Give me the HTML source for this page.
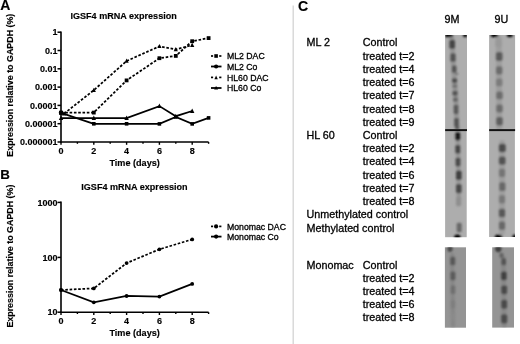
<!DOCTYPE html><html><head><meta charset="utf-8"><style>
*{margin:0;padding:0}
html,body{width:520px;height:344px;background:#fff;overflow:hidden}
svg{display:block;filter:grayscale(1);font-family:"Liberation Sans",sans-serif}
.b{font-weight:bold;stroke:#000;stroke-width:0.15px}
.r{stroke:#000;stroke-width:0.3px}
</style></head><body><svg width="520" height="344" viewBox="0 0 520 344">
<defs><filter id="bl" x="-50%" y="-50%" width="200%" height="200%"><feGaussianBlur stdDeviation="0.8"/></filter></defs>
<text x="0.2" y="9.9" class="b" font-size="14">A</text>
<text x="70.5" y="19.3" class="b" font-size="9.05">IGSF4 mRNA expression</text>
<text transform="translate(13.3,85.2) rotate(-90)" text-anchor="middle" class="b" font-size="8.9">Expression relative to GAPDH (%)</text>
<line x1="61" y1="31.4" x2="61" y2="142.8" stroke="#000" stroke-width="1.6"/>
<line x1="60.2" y1="142" x2="208.6" y2="142" stroke="#000" stroke-width="1.6"/>
<line x1="57.5" y1="32.2" x2="61" y2="32.2" stroke="#000" stroke-width="1.5"/>
<text x="57.5" y="35.400000000000006" text-anchor="end" class="b" font-size="9">1</text>
<line x1="57.5" y1="50.5" x2="61" y2="50.5" stroke="#000" stroke-width="1.5"/>
<text x="57.5" y="53.7" text-anchor="end" class="b" font-size="9">0.1</text>
<line x1="57.5" y1="68.80000000000001" x2="61" y2="68.80000000000001" stroke="#000" stroke-width="1.5"/>
<text x="57.5" y="72.00000000000001" text-anchor="end" class="b" font-size="9">0.01</text>
<line x1="57.5" y1="87.10000000000001" x2="61" y2="87.10000000000001" stroke="#000" stroke-width="1.5"/>
<text x="57.5" y="90.30000000000001" text-anchor="end" class="b" font-size="9">0.001</text>
<line x1="57.5" y1="105.4" x2="61" y2="105.4" stroke="#000" stroke-width="1.5"/>
<text x="57.5" y="108.60000000000001" text-anchor="end" class="b" font-size="9">0.0001</text>
<line x1="57.5" y1="123.7" x2="61" y2="123.7" stroke="#000" stroke-width="1.5"/>
<text x="57.5" y="126.9" text-anchor="end" class="b" font-size="9">0.00001</text>
<line x1="57.5" y1="142.0" x2="61" y2="142.0" stroke="#000" stroke-width="1.5"/>
<text x="57.5" y="145.2" text-anchor="end" class="b" font-size="9">0.000001</text>
<line x1="61.0" y1="142" x2="61.0" y2="144.8" stroke="#000" stroke-width="1.4"/>
<text x="61.0" y="153.7" text-anchor="middle" class="b" font-size="9">0</text>
<line x1="77.4" y1="142" x2="77.4" y2="143.8" stroke="#000" stroke-width="1.4"/>
<line x1="93.8" y1="142" x2="93.8" y2="144.8" stroke="#000" stroke-width="1.4"/>
<text x="93.8" y="153.7" text-anchor="middle" class="b" font-size="9">2</text>
<line x1="110.19999999999999" y1="142" x2="110.19999999999999" y2="143.8" stroke="#000" stroke-width="1.4"/>
<line x1="126.6" y1="142" x2="126.6" y2="144.8" stroke="#000" stroke-width="1.4"/>
<text x="126.6" y="153.7" text-anchor="middle" class="b" font-size="9">4</text>
<line x1="143.0" y1="142" x2="143.0" y2="143.8" stroke="#000" stroke-width="1.4"/>
<line x1="159.39999999999998" y1="142" x2="159.39999999999998" y2="144.8" stroke="#000" stroke-width="1.4"/>
<text x="159.39999999999998" y="153.7" text-anchor="middle" class="b" font-size="9">6</text>
<line x1="175.79999999999998" y1="142" x2="175.79999999999998" y2="143.8" stroke="#000" stroke-width="1.4"/>
<line x1="192.2" y1="142" x2="192.2" y2="144.8" stroke="#000" stroke-width="1.4"/>
<text x="192.2" y="153.7" text-anchor="middle" class="b" font-size="9">8</text>
<line x1="208.6" y1="142" x2="208.6" y2="143.8" stroke="#000" stroke-width="1.4"/>
<text x="134.6" y="165.9" text-anchor="middle" class="b" font-size="9.1">Time (days)</text>
<polyline points="61.00,112.60 93.80,112.60 126.60,80.40 159.40,58.20 175.80,55.90 192.20,41.20 208.60,38.10" fill="none" stroke="#000" stroke-width="1.75" stroke-dasharray="2.6 1.7"/>
<polyline points="64.12,113.60 93.80,90.20 126.60,61.00 159.40,46.30 175.80,49.40 192.20,45.10" fill="none" stroke="#000" stroke-width="1.75" stroke-dasharray="2.6 1.7"/>
<polyline points="61.00,112.80 93.80,123.80 126.60,123.80 159.40,123.90 175.80,117.00 192.20,123.90 208.60,117.90" fill="none" stroke="#000" stroke-width="1.75"/>
<polyline points="61.00,118.20 93.80,118.10 126.60,118.10 159.40,106.10 175.80,116.20 192.20,111.00" fill="none" stroke="#000" stroke-width="1.75"/>
<rect x="59.10" y="110.70" width="3.8" height="3.8" fill="#000"/>
<rect x="91.90" y="110.70" width="3.8" height="3.8" fill="#000"/>
<rect x="124.70" y="78.50" width="3.8" height="3.8" fill="#000"/>
<rect x="157.50" y="56.30" width="3.8" height="3.8" fill="#000"/>
<rect x="173.90" y="54.00" width="3.8" height="3.8" fill="#000"/>
<rect x="190.30" y="39.30" width="3.8" height="3.8" fill="#000"/>
<rect x="206.70" y="36.20" width="3.8" height="3.8" fill="#000"/>
<circle cx="61.00" cy="112.80" r="2.2" fill="#000"/>
<polygon points="62.02,115.40 66.22,115.40 64.12,111.20" fill="#000"/>
<polygon points="91.70,92.00 95.90,92.00 93.80,87.80" fill="#000"/>
<polygon points="124.50,62.80 128.70,62.80 126.60,58.60" fill="#000"/>
<polygon points="157.30,48.10 161.50,48.10 159.40,43.90" fill="#000"/>
<polygon points="173.70,51.20 177.90,51.20 175.80,47.00" fill="#000"/>
<polygon points="190.10,46.90 194.30,46.90 192.20,42.70" fill="#000"/>
<rect x="59.20" y="111.00" width="3.6" height="3.6" fill="#000"/>
<rect x="92.00" y="122.00" width="3.6" height="3.6" fill="#000"/>
<rect x="124.80" y="122.00" width="3.6" height="3.6" fill="#000"/>
<rect x="157.60" y="122.10" width="3.6" height="3.6" fill="#000"/>
<rect x="174.00" y="115.20" width="3.6" height="3.6" fill="#000"/>
<rect x="190.40" y="122.10" width="3.6" height="3.6" fill="#000"/>
<rect x="206.80" y="116.10" width="3.6" height="3.6" fill="#000"/>
<polygon points="58.80,120.10 63.20,120.10 61.00,115.70" fill="#000"/>
<polygon points="91.60,120.00 96.00,120.00 93.80,115.60" fill="#000"/>
<polygon points="124.40,120.00 128.80,120.00 126.60,115.60" fill="#000"/>
<polygon points="157.20,108.00 161.60,108.00 159.40,103.60" fill="#000"/>
<polygon points="173.60,118.10 178.00,118.10 175.80,113.70" fill="#000"/>
<polygon points="190.00,112.90 194.40,112.90 192.20,108.50" fill="#000"/>
<line x1="211" y1="56.0" x2="213.1" y2="56.0" stroke="#000" stroke-width="1.7"/>
<line x1="219.2" y1="56.0" x2="221.4" y2="56.0" stroke="#000" stroke-width="1.7"/>
<rect x="214.29999999999998" y="54.2" width="3.6" height="3.6" fill="#000"/>
<text x="227" y="59.1" font-size="8.7" class="r">ML2 DAC</text>
<line x1="211" y1="66.5" x2="221.5" y2="66.5" stroke="#000" stroke-width="1.8"/>
<circle cx="216.1" cy="66.5" r="2.1" fill="#000"/>
<text x="227" y="69.6" font-size="8.7" class="r">ML2 Co</text>
<line x1="211" y1="77.4" x2="213.1" y2="77.4" stroke="#000" stroke-width="1.7"/>
<line x1="219.2" y1="77.4" x2="221.4" y2="77.4" stroke="#000" stroke-width="1.7"/>
<polygon points="214.4,79.2 217.79999999999998,79.2 216.1,75.5" fill="#000"/>
<text x="227" y="80.5" font-size="8.7" class="r">HL60 DAC</text>
<line x1="211" y1="88.0" x2="221.5" y2="88.0" stroke="#000" stroke-width="1.8"/>
<polygon points="214.1,89.4 218.1,89.4 216.1,85.9" fill="#000"/>
<text x="227" y="91.1" font-size="8.7" class="r">HL60 Co</text>
<text x="0.2" y="179.3" class="b" font-size="13.4">B</text>
<text x="81.3" y="190" class="b" font-size="9.05">IGSF4 mRNA expression</text>
<text transform="translate(13.3,256.1) rotate(-90)" text-anchor="middle" class="b" font-size="8.9">Expression relative to GAPDH (%)</text>
<line x1="61" y1="201.6" x2="61" y2="313.0" stroke="#000" stroke-width="1.6"/>
<line x1="60.2" y1="312.2" x2="208.6" y2="312.2" stroke="#000" stroke-width="1.6"/>
<line x1="57.5" y1="202.4" x2="61" y2="202.4" stroke="#000" stroke-width="1.5"/>
<text x="57.5" y="205.6" text-anchor="end" class="b" font-size="9">1000</text>
<line x1="57.5" y1="257.4" x2="61" y2="257.4" stroke="#000" stroke-width="1.5"/>
<text x="57.5" y="260.59999999999997" text-anchor="end" class="b" font-size="9">100</text>
<line x1="57.5" y1="312.2" x2="61" y2="312.2" stroke="#000" stroke-width="1.5"/>
<text x="57.5" y="315.4" text-anchor="end" class="b" font-size="9">10</text>
<line x1="61.0" y1="312.2" x2="61.0" y2="315.0" stroke="#000" stroke-width="1.4"/>
<text x="61.0" y="323.9" text-anchor="middle" class="b" font-size="9">0</text>
<line x1="77.4" y1="312.2" x2="77.4" y2="314.0" stroke="#000" stroke-width="1.4"/>
<line x1="93.8" y1="312.2" x2="93.8" y2="315.0" stroke="#000" stroke-width="1.4"/>
<text x="93.8" y="323.9" text-anchor="middle" class="b" font-size="9">2</text>
<line x1="110.19999999999999" y1="312.2" x2="110.19999999999999" y2="314.0" stroke="#000" stroke-width="1.4"/>
<line x1="126.6" y1="312.2" x2="126.6" y2="315.0" stroke="#000" stroke-width="1.4"/>
<text x="126.6" y="323.9" text-anchor="middle" class="b" font-size="9">4</text>
<line x1="143.0" y1="312.2" x2="143.0" y2="314.0" stroke="#000" stroke-width="1.4"/>
<line x1="159.39999999999998" y1="312.2" x2="159.39999999999998" y2="315.0" stroke="#000" stroke-width="1.4"/>
<text x="159.39999999999998" y="323.9" text-anchor="middle" class="b" font-size="9">6</text>
<line x1="175.79999999999998" y1="312.2" x2="175.79999999999998" y2="314.0" stroke="#000" stroke-width="1.4"/>
<line x1="192.2" y1="312.2" x2="192.2" y2="315.0" stroke="#000" stroke-width="1.4"/>
<text x="192.2" y="323.9" text-anchor="middle" class="b" font-size="9">8</text>
<line x1="208.6" y1="312.2" x2="208.6" y2="314.0" stroke="#000" stroke-width="1.4"/>
<text x="134.6" y="336.09999999999997" text-anchor="middle" class="b" font-size="9.1">Time (days)</text>
<polyline points="61.00,290.00 93.80,288.40 126.60,263.10 159.40,249.30 192.20,239.40" fill="none" stroke="#000" stroke-width="1.75" stroke-dasharray="2.6 1.7"/>
<polyline points="61.00,290.00 93.80,302.30 126.60,296.00 159.40,296.60 192.20,283.90" fill="none" stroke="#000" stroke-width="1.75"/>
<circle cx="61.00" cy="290.00" r="1.9" fill="#000"/>
<circle cx="93.80" cy="288.40" r="1.9" fill="#000"/>
<circle cx="126.60" cy="263.10" r="1.9" fill="#000"/>
<circle cx="159.40" cy="249.30" r="1.9" fill="#000"/>
<circle cx="192.20" cy="239.40" r="1.9" fill="#000"/>
<circle cx="61.00" cy="290.00" r="1.9" fill="#000"/>
<circle cx="93.80" cy="302.30" r="1.9" fill="#000"/>
<circle cx="126.60" cy="296.00" r="1.9" fill="#000"/>
<circle cx="159.40" cy="296.60" r="1.9" fill="#000"/>
<circle cx="192.20" cy="283.90" r="1.9" fill="#000"/>
<line x1="211" y1="226.4" x2="213.1" y2="226.4" stroke="#000" stroke-width="1.7"/>
<line x1="219.2" y1="226.4" x2="221.4" y2="226.4" stroke="#000" stroke-width="1.7"/>
<circle cx="216.1" cy="226.4" r="2.1" fill="#000"/>
<text x="227" y="229.5" font-size="8.7" class="r">Monomac DAC</text>
<line x1="211" y1="236.6" x2="221.5" y2="236.6" stroke="#000" stroke-width="1.8"/>
<circle cx="216.1" cy="236.6" r="2.1" fill="#000"/>
<text x="227" y="239.7" font-size="8.7" class="r">Monomac Co</text>
<line x1="293.2" y1="5.5" x2="293.2" y2="344" stroke="#d4d4d4" stroke-width="1.3"/>
<text x="298.1" y="10.8" class="b" font-size="14.2">C</text>
<text x="362.8" y="46.40" font-size="10.75" class="r">Control</text>
<text x="362.8" y="59.63" font-size="10.75" class="r">treated t=2</text>
<text x="362.8" y="72.86" font-size="10.75" class="r">treated t=4</text>
<text x="362.8" y="86.09" font-size="10.75" class="r">treated t=6</text>
<text x="362.8" y="99.32" font-size="10.75" class="r">treated t=7</text>
<text x="362.8" y="112.55" font-size="10.75" class="r">treated t=8</text>
<text x="362.8" y="125.78" font-size="10.75" class="r">treated t=9</text>
<text x="362.8" y="139.01" font-size="10.75" class="r">Control</text>
<text x="362.8" y="152.24" font-size="10.75" class="r">treated t=2</text>
<text x="362.8" y="165.47" font-size="10.75" class="r">treated t=4</text>
<text x="362.8" y="178.70" font-size="10.75" class="r">treated t=6</text>
<text x="362.8" y="191.93" font-size="10.75" class="r">treated t=7</text>
<text x="362.8" y="205.16" font-size="10.75" class="r">treated t=8</text>
<text x="306.5" y="46.4" font-size="10.75" class="r">ML 2</text>
<text x="306.5" y="139.01" font-size="10.75" class="r">HL 60</text>
<text x="306.5" y="218.39" font-size="10.75" class="r">Unmethylated control</text>
<text x="306.5" y="231.62" font-size="10.75" class="r">Methylated control</text>
<text x="362.8" y="268.90" font-size="10.75" class="r">Control</text>
<text x="362.8" y="281.90" font-size="10.75" class="r">treated t=2</text>
<text x="362.8" y="294.90" font-size="10.75" class="r">treated t=4</text>
<text x="362.8" y="307.90" font-size="10.75" class="r">treated t=6</text>
<text x="362.8" y="320.90" font-size="10.75" class="r">treated t=8</text>
<text x="306.5" y="268.9" font-size="10.75" class="r">Monomac</text>
<text x="444.5" y="22.5" font-size="10.75" class="r">9M</text>
<text x="494.5" y="22.5" font-size="10.75" class="r">9U</text>
<defs><clipPath id="cl1s1"><rect x="445.1" y="35.0" width="21.9" height="94.2"/></clipPath><clipPath id="cl1s2"><rect x="445.1" y="131.0" width="21.6" height="106.2"/></clipPath><clipPath id="cl2s1"><rect x="489.1" y="35.0" width="26.0" height="94.2"/></clipPath><clipPath id="cl2s2"><rect x="489.1" y="131.0" width="25.8" height="106.0"/></clipPath><clipPath id="cl1s3"><rect x="444.9" y="247.3" width="21.1" height="80.4"/></clipPath><clipPath id="cl2s3"><rect x="492.2" y="247.3" width="21.8" height="80.3"/></clipPath></defs>
<rect x="445.1" y="35.0" width="21.9" height="94.2" fill="#adadad"/>
<rect x="445.1" y="131.0" width="21.6" height="106.2" fill="#adadad"/>
<rect x="489.1" y="35.0" width="26.0" height="94.2" fill="#adadad"/>
<rect x="489.1" y="131.0" width="25.8" height="106.0" fill="#adadad"/>
<rect x="444.9" y="247.3" width="21.1" height="80.4" fill="#949494"/>
<rect x="492.2" y="247.3" width="21.8" height="80.3" fill="#949494"/>
<g clip-path="url(#cl1s1)"><g filter="url(#bl)">
<polyline points="451.8,38 453,60 454.6,80 456,100 457,129" fill="none" stroke="rgb(150,150,150)" stroke-width="5.0" stroke-linecap="round"/>
<ellipse cx="449.0" cy="35.0" rx="4.2" ry="2.3" fill="rgb(0,0,0)"/>
<ellipse cx="465.2" cy="35.0" rx="2.3" ry="2.2" fill="rgb(0,0,0)"/>
<rect x="449.40" y="39.74" width="5.60" height="9.12" rx="1.68" fill="rgb(68,68,68)"/>
<rect x="450.40" y="53.13" width="5.20" height="8.74" rx="1.56" fill="rgb(82,82,82)"/>
<rect x="451.90" y="65.59" width="4.60" height="7.22" rx="1.38" fill="rgb(84,84,84)"/>
<rect x="455.20" y="72.95" width="3.20" height="1.90" rx="0.57" fill="rgb(113,113,113)"/>
<rect x="452.10" y="78.22" width="5.00" height="4.75" rx="1.43" fill="rgb(76,76,76)"/>
<rect x="452.50" y="84.30" width="4.60" height="3.80" rx="1.14" fill="rgb(113,113,113)"/>
<rect x="452.50" y="90.83" width="5.00" height="4.94" rx="1.48" fill="rgb(82,82,82)"/>
<rect x="453.10" y="97.51" width="4.60" height="4.18" rx="1.25" fill="rgb(100,100,100)"/>
<rect x="453.70" y="104.84" width="4.60" height="9.31" rx="1.38" fill="rgb(88,88,88)"/>
<rect x="454.20" y="117.94" width="4.60" height="8.93" rx="1.38" fill="rgb(82,82,82)"/>
<rect x="455.20" y="126.09" width="4.00" height="3.42" rx="1.03" fill="rgb(88,88,88)"/>
</g></g>
<g clip-path="url(#cl1s2)"><g filter="url(#bl)">
<polyline points="457.8,132 458.8,200" fill="none" stroke="rgb(150,150,150)" stroke-width="4.5" stroke-linecap="round"/>
<rect x="455.40" y="132.02" width="4.80" height="8.36" rx="1.44" fill="rgb(25,25,25)"/>
<rect x="455.40" y="145.03" width="4.80" height="8.55" rx="1.44" fill="rgb(68,68,68)"/>
<rect x="455.60" y="157.73" width="4.80" height="8.74" rx="1.44" fill="rgb(73,73,73)"/>
<rect x="456.00" y="170.45" width="5.60" height="9.50" rx="1.68" fill="rgb(63,63,63)"/>
<rect x="456.00" y="184.04" width="5.60" height="9.12" rx="1.68" fill="rgb(73,73,73)"/>
<rect x="456.00" y="196.65" width="5.20" height="9.50" rx="1.56" fill="rgb(143,143,143)"/>
<rect x="456.70" y="222.75" width="5.00" height="9.50" rx="1.50" fill="rgb(103,103,103)"/>
<ellipse cx="457.4" cy="237.2" rx="3.2" ry="2.6" fill="rgb(0,0,0)"/>
</g></g>
<g clip-path="url(#cl1s3)"><g filter="url(#bl)">
<polyline points="452,255 453,325" fill="none" stroke="rgb(135,135,135)" stroke-width="4.5" stroke-linecap="round"/>
<ellipse cx="450.0" cy="248.5" rx="2.6" ry="3.6" fill="rgb(73,73,73)"/>
<rect x="450.20" y="256.63" width="5.00" height="8.74" rx="1.50" fill="rgb(88,88,88)"/>
<rect x="450.40" y="271.43" width="5.00" height="8.74" rx="1.50" fill="rgb(90,90,90)"/>
<rect x="450.70" y="285.53" width="4.60" height="8.55" rx="1.38" fill="rgb(110,110,110)"/>
<rect x="450.70" y="300.21" width="4.60" height="7.98" rx="1.38" fill="rgb(126,126,126)"/>
<rect x="450.70" y="313.01" width="4.60" height="7.98" rx="1.38" fill="rgb(138,138,138)"/>
</g></g>
<g clip-path="url(#cl2s1)"><g filter="url(#bl)">
<polyline points="498.8,38 499.3,129" fill="none" stroke="rgb(158,158,158)" stroke-width="6.0" stroke-linecap="round"/>
<ellipse cx="494.5" cy="35.0" rx="3.8" ry="2.3" fill="rgb(0,0,0)"/>
<ellipse cx="509.8" cy="35.0" rx="3.0" ry="2.2" fill="rgb(0,0,0)"/>
<rect x="495.30" y="38.91" width="6.40" height="8.17" rx="1.92" fill="rgb(153,153,153)"/>
<rect x="495.90" y="51.94" width="6.60" height="9.12" rx="1.98" fill="rgb(90,90,90)"/>
<rect x="496.00" y="66.22" width="6.40" height="8.17" rx="1.92" fill="rgb(108,108,108)"/>
<rect x="496.00" y="78.51" width="6.40" height="7.79" rx="1.92" fill="rgb(123,123,123)"/>
<rect x="496.30" y="91.51" width="6.40" height="7.79" rx="1.92" fill="rgb(108,108,108)"/>
<rect x="496.30" y="104.61" width="6.40" height="7.79" rx="1.92" fill="rgb(108,108,108)"/>
<rect x="496.30" y="116.92" width="6.40" height="8.55" rx="1.92" fill="rgb(93,93,93)"/>
</g></g>
<g clip-path="url(#cl2s2)"><g filter="url(#bl)">
<polyline points="502,143 502,232" fill="none" stroke="rgb(158,158,158)" stroke-width="6.0" stroke-linecap="round"/>
<rect x="498.90" y="143.63" width="6.80" height="8.74" rx="2.04" fill="rgb(76,76,76)"/>
<rect x="498.90" y="156.51" width="6.60" height="8.17" rx="1.98" fill="rgb(83,83,83)"/>
<rect x="498.90" y="168.72" width="6.20" height="8.17" rx="1.86" fill="rgb(116,116,116)"/>
<rect x="499.20" y="182.13" width="6.20" height="8.93" rx="1.86" fill="rgb(103,103,103)"/>
<rect x="498.90" y="195.22" width="6.20" height="8.17" rx="1.86" fill="rgb(120,120,120)"/>
<rect x="498.90" y="208.63" width="6.20" height="8.74" rx="1.86" fill="rgb(88,88,88)"/>
<rect x="498.90" y="221.61" width="6.20" height="8.17" rx="1.86" fill="rgb(103,103,103)"/>
<ellipse cx="498.6" cy="237.2" rx="3.8" ry="2.6" fill="rgb(0,0,0)"/>
<ellipse cx="514.6" cy="237.2" rx="2.2" ry="2.8" fill="rgb(0,0,0)"/>
</g></g>
<g clip-path="url(#cl2s3)"><g filter="url(#bl)">
<polyline points="503.5,258 504.2,325" fill="none" stroke="rgb(135,135,135)" stroke-width="5.0" stroke-linecap="round"/>
<ellipse cx="498.3" cy="248.5" rx="3.2" ry="3.8" fill="rgb(63,63,63)"/>
<rect x="499.50" y="253.12" width="4.00" height="4.75" rx="1.20" fill="rgb(98,98,98)"/>
<rect x="501.40" y="258.29" width="4.60" height="7.03" rx="1.38" fill="rgb(83,83,83)"/>
<rect x="501.20" y="271.43" width="5.40" height="8.74" rx="1.62" fill="rgb(63,63,63)"/>
<rect x="501.30" y="285.43" width="5.80" height="8.74" rx="1.74" fill="rgb(73,73,73)"/>
<rect x="501.30" y="299.74" width="5.80" height="9.12" rx="1.74" fill="rgb(73,73,73)"/>
<rect x="501.20" y="314.34" width="6.00" height="9.12" rx="1.80" fill="rgb(76,76,76)"/>
</g></g>
<rect x="445.1" y="129.1" width="21.9" height="2.0" fill="#111"/>
<rect x="489.1" y="129.1" width="26" height="2.0" fill="#111"/>
</svg></body></html>
